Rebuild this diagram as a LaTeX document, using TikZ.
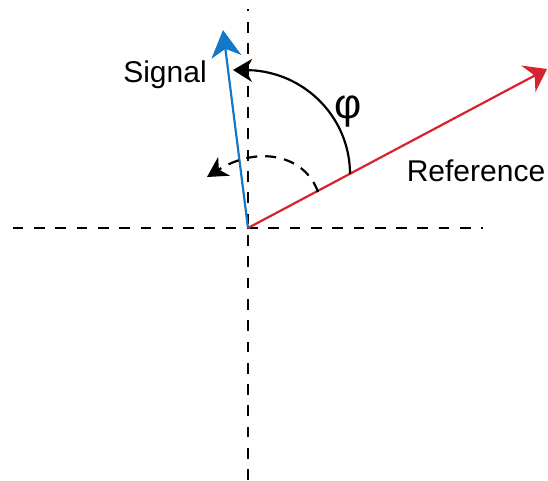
\documentclass[tikz,border=0pt]{standalone}
\usepackage{fontspec}
\setmainfont{Liberation Sans}
\usetikzlibrary{arrows.meta}
\definecolor{sigblue}{RGB}{20,120,200}
\definecolor{refred}{RGB}{215,35,45}
\begin{document}
\begin{tikzpicture}[x=1pt,y=1pt,
 axis/.style={line width=2.3pt, dash pattern=on 10.7pt off 10.6pt},
 vec/.style={line width=2.2pt},
 angarc/.style={line width=2.2pt},
 lbl/.style={inner sep=0pt, anchor=base, font=\fontsize{30}{36}\selectfont},
]
\useasboundingbox (0,0) rectangle (548,480);
\coordinate (O) at (248,252);
\coordinate (hl) at (12.7,252);
\coordinate (hr) at (483,252);
\coordinate (vb) at (248,0);
\coordinate (vt) at (248,471);
\draw[axis] (hl) -- (hr);
\draw[axis] (vb) -- (vt);
\coordinate (R) at (547,411);
\coordinate (S) at (223,450);
\draw[vec, refred, -{Stealth[length=21pt,width=30pt,inset=7pt]}] (O) -- (R);
\draw[vec, sigblue, -{Stealth[length=27pt,width=30pt,inset=8pt]}] (O) -- (S);
\coordinate (a0) at (350,306);
\coordinate (a1) at (233,410);
\draw[angarc, -{Stealth[length=19pt,width=23pt,inset=6pt]}] (a0) arc[start angle=0, end angle=85, x radius=105, y radius=104] -- (a1);
\coordinate (d0) at (318,288);
\coordinate (d1) at (207,303);
\draw[angarc, dash pattern=on 11pt off 8pt, -{Stealth[length=20pt,width=22pt,inset=6pt]}] (d0) .. controls (305,325) and (258,335) .. (d1);
\node[lbl] (sig) at (165,397) {Signal};
\node[lbl] (ref) at (476,298.3) {Reference};
\node[inner sep=0pt, font=\fontsize{42}{48}\selectfont] (phi) at (348,368) {φ};
\end{tikzpicture}
\end{document}
